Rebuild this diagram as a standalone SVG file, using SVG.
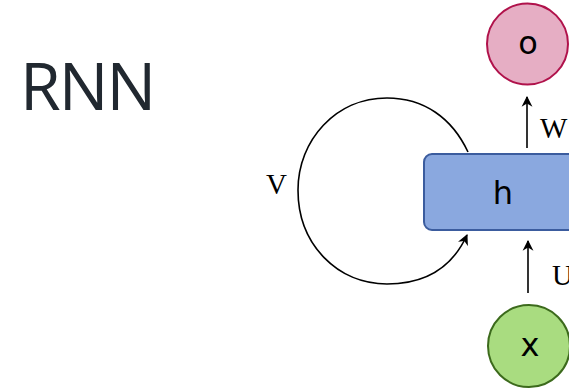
<svg xmlns="http://www.w3.org/2000/svg" width="569" height="390" viewBox="0 0 569 390">
  <style>
    .title { font-family: "Open Sans", "Noto Sans", sans-serif; font-size: 66px; fill: #212830; letter-spacing: -2px; }
    .node-label { font-family: "DejaVu Sans", sans-serif; font-size: 32px; fill: #000; text-anchor: middle; }
    .weight { font-family: "Liberation Serif", serif; font-size: 29px; fill: #000; }
    .edge { fill: none; stroke: #000; stroke-width: 1.6; marker-end: url(#arrow); }
  </style>
  <defs>
    <marker id="arrow" viewBox="0 0 10 12" refX="9" refY="6" markerWidth="11" markerHeight="13" markerUnits="userSpaceOnUse" orient="auto">
      <path d="M0,1 L10,6 L0,11 L3,6 Z" fill="#000"/>
    </marker>
  </defs>
  <rect width="569" height="390" fill="#fff"/>
  <text class="title" x="20" y="110">RNN</text>

  <g id="connectors">
    <path class="edge" d="M527,148 L527,97"/>
    <path class="edge" d="M528,293 L528,241"/>
    <path class="edge" d="M468,152 C452,118 424,98 387,98 C336,98 298,140 298,190 C298,245 338,284 387,284 C424,284 452,268 467,235"/>
  </g>

  <g id="weights">
    <text class="weight" x="540" y="138">W</text>
    <text class="weight" x="552" y="285">U</text>
    <text class="weight" x="266" y="194">V</text>
  </g>

  <g id="node-o">
    <circle cx="527.5" cy="44" r="40.5" fill="#e6aec4" stroke="#b0124b" stroke-width="2"/>
    <text class="node-label" x="528" y="54">o</text>
  </g>
  <g id="node-h">
    <rect x="424" y="154" width="170" height="76" rx="8" fill="#8aa8df" stroke="#3b5c9e" stroke-width="2"/>
    <text class="node-label" x="503" y="204">h</text>
  </g>
  <g id="node-x">
    <circle cx="529" cy="346" r="41" fill="#a9dc80" stroke="#3c6a1c" stroke-width="2"/>
    <text class="node-label" x="530" y="356">x</text>
  </g>
</svg>
